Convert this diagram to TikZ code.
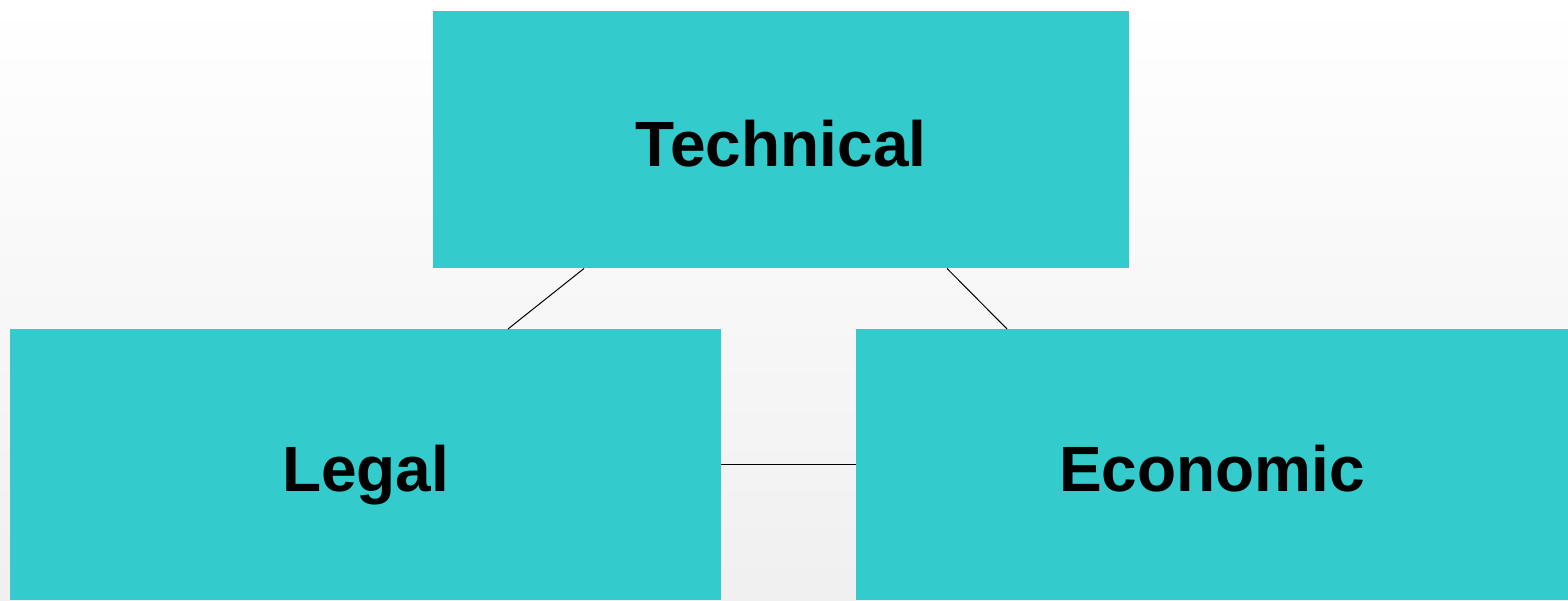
\documentclass[tikz,border=0pt]{standalone}
\usepackage{fontspec}
\setmainfont{Liberation Sans}
\usetikzlibrary{calc}

\definecolor{boxteal}{HTML}{33CBCC}

\begin{document}
\begin{tikzpicture}[x=1pt,y=-1pt]
\tikzstyle{every node}=[shape=rectangle, fill=boxteal, inner sep=0pt, anchor=north west,
  font=\fontsize{64}{76}\selectfont\bfseries, text height=54pt, text depth=0pt];
% background
\shade[top color=white, bottom color=black!6] (0,0) rectangle (1568,600);
\useasboundingbox (0,0) rectangle (1568,600);

\draw (433,11) node[minimum width=696pt, minimum height=257pt] (tech) {Technical};
\draw (10,329) node[minimum width=711pt, minimum height=271pt] (legal) {Legal};
\draw (856,329) node[minimum width=712pt, minimum height=271pt] (econ) {Economic};

\draw[line width=1pt] ($(tech.south west)!0.217!(tech.south east)$) -- ($(legal.north west)!0.70!(legal.north east)$)
($(tech.south west)!0.738!(tech.south east)$) -- ($(econ.north west)!0.212!(econ.north east)$);
\draw[line width=1pt] (legal.east) -- (econ.west);
\end{tikzpicture}
\end{document}
